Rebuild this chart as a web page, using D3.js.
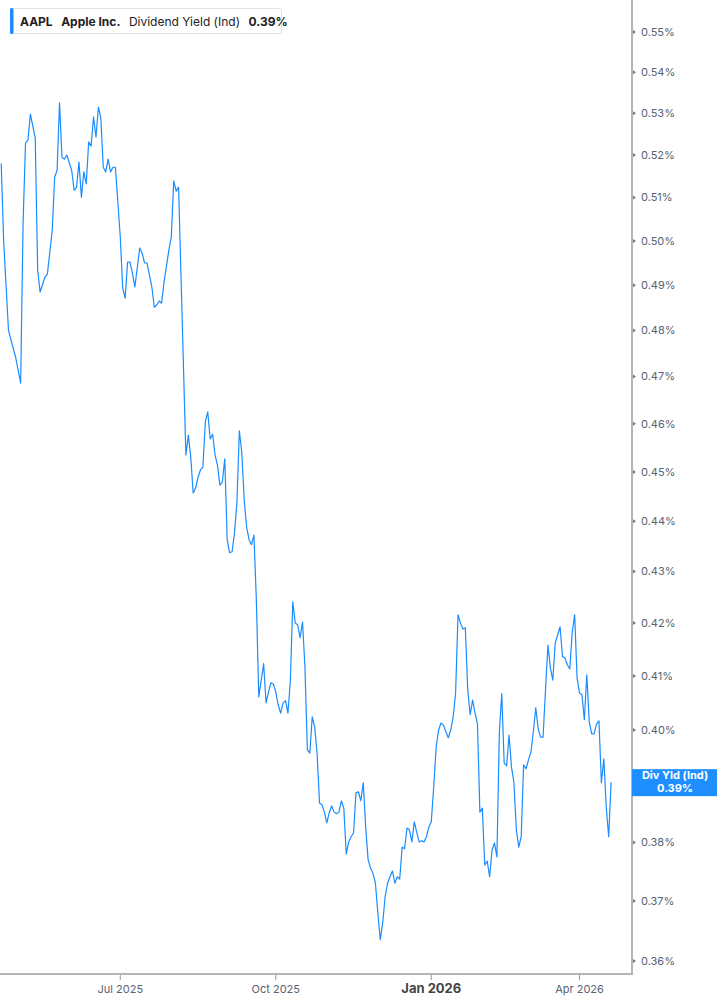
<!DOCTYPE html>
<html>
<head>
<meta charset="utf-8">
<script src="https://cdn.jsdelivr.net/npm/d3@7"></script>
<style>
  body { margin: 0; background: #fff; font-family: Inter, "Noto Sans", sans-serif; }
</style>
</head>
<body>
<div id="chart"></div>
<script>
// trading session index (0 = Apr 21 2025) and dividend yield in %
var session = [0,1,3,6,8,9,10,11,12,14,15,16,18,19,21,22,23,24,25,26,27,29,30,31,32,33,34,35,36,37,38,39,40,41,42,43,44,45,46,47,
  49,50,51,52,53,54,55,57,58,59,60,62,63,64,65,66,67,69,70,71,72,73,
  76,77,78,79,80,81,82,83,84,85,86,87,88,89,90,91,92,93,94,95,96,97,98,99,100,101,102,103,104,105,106,
  108,109,110,111,112,113,114,115,116,117,118,119,120,121,122,123,124,125,126,127,128,129,130,
  131,132,133,134,135,136,137,138,139,140,141,142,143,144,145,146,147,148,149,150,151,152,153,154,155,156,157,158,159,160,
  161,162,163,164,165,166,167,168,169,170,171,172,173,174,175,176,177,178,179,180,181,182,183,184,185,186,187,188,189,190,
  191,192,193,194,195,196,197,198,199,200,201,202,203,204,205,206,207,208,209,210,211,212,213,214,215,216,217,218,219,220,
  221,222,223,224,225,226,227,228,229,230,231,232,233,234,235,236,237,238,239,240,241,242,243,244,245,246,247,248,249,250,251];

var divYield = [0.518,0.500,0.480,0.474,0.4686,0.5041,0.5228,0.5236,0.5298,0.5240,0.4934,0.4885,0.4918,0.4925,0.5025,0.5148,0.5164,0.5325,0.5195,0.5190,
  0.5200,0.5164,0.5117,0.5124,0.5183,0.5101,0.5160,0.5132,0.5231,0.5221,0.5291,0.5243,0.5315,0.5288,0.5171,0.5160,0.5190,0.5160,0.5171,0.5171,
  0.5009,0.4894,0.4871,0.4952,0.4952,0.4927,0.4896,0.4984,0.4972,0.4950,0.4950,0.4896,0.4851,0.4856,0.4865,0.4860,0.4907,0.4979,0.5009,0.5139,0.5115,0.5124,
  0.4535,0.4576,0.4531,0.4457,0.4467,0.4489,0.4504,0.4510,0.4604,0.4625,0.4568,0.4578,0.4535,0.4514,0.4473,0.4479,0.4527,0.4363,0.4337,0.4339,
  0.4376,0.4437,0.4585,0.4541,0.4443,0.4388,0.4363,0.4353,0.4372,0.4245,0.4061,
  0.4123,0.4050,0.4070,0.4087,0.4085,0.4070,0.4046,0.4031,0.4050,0.4054,0.4031,0.4092,0.4241,0.4200,0.4197,0.4172,0.4202,0.4117,0.3964,0.3958,0.4024,0.4006,0.3958,
  0.3869,0.3866,0.3853,0.3834,0.3852,0.3864,0.3853,0.3850,0.3853,0.3873,0.3860,0.3780,0.3801,0.3810,0.3817,0.3887,0.3889,0.3873,0.3905,0.3827,
  0.3770,0.3756,0.3747,0.3730,0.3680,0.3635,0.3663,0.3707,0.3730,0.3741,
  0.3751,0.3730,0.3741,0.3737,0.3792,0.3789,0.3825,0.3822,0.3801,0.3836,0.3818,0.3801,0.3803,0.3801,0.3810,0.3827,0.3836,0.3898,0.3969,0.4000,
  0.4013,0.4009,0.3997,0.3986,0.4000,0.4024,0.4068,0.4216,0.4200,0.4189,
  0.4191,0.4074,0.4028,0.4055,0.4031,0.4011,0.3853,0.3860,0.3761,0.3768,0.3741,0.3787,0.3799,0.3775,0.3995,0.4067,0.3940,0.3935,0.3991,0.3933,
  0.3906,0.3822,0.3792,0.3810,0.3937,0.3930,0.3946,0.3960,0.3997,0.4041,
  0.4002,0.3987,0.3987,0.4074,0.4158,0.4115,0.4092,0.4162,0.4177,0.4193,0.4136,0.4134,0.4121,0.4113,0.4183,0.4216,0.4096,0.4068,0.4065,0.4019,
  0.4102,0.4015,0.3993,0.3993,0.4011,0.4017,0.3905,0.3948,0.3862,0.3810,0.3906];

// x axis ticks (first session of the month)
var xTickSessions = [49, 113, 177, 238];
var xTickLabels = ["Jul 2025", "Oct 2025", "Jan 2026", "Apr 2026"];
var xTickMajor = [false, false, true, false];

// y axis ticks in %
var yTicks = [0.36,0.37,0.38,0.39,0.40,0.41,0.42,0.43,0.44,0.45,0.46,0.47,0.48,0.49,0.50,0.51,0.52,0.53,0.54,0.55];

var legendParts = [
  { text: "AAPL", bold: true },
  { text: "Apple Inc.", bold: true },
  { text: "Dividend Yield (Ind)", bold: false },
  { text: "0.39%", bold: true }
];
var lastLabel = "Div Yld (Ind)";

var W = 717, H = 1005;
var plotW = 632, plotH = 974;

var svg = d3.select("#chart").append("svg")
  .attr("width", W)
  .attr("height", H);

var x = d3.scaleLinear().domain([-0.5, 259.6]).range([0, plotW]);
var y = d3.scaleLog().domain([0.35787, 0.5581]).range([plotH, 0]);

var data = session.map(function(s, i) { return { s: s, v: divYield[i] }; });
var last = data[data.length - 1];
var ly = y(last.v);

// the line
svg.append("path")
  .datum(data)
  .attr("fill", "none")
  .attr("stroke", "#1a8cff")
  .attr("stroke-width", 1.2)
  .attr("stroke-linejoin", "round")
  .attr("d", d3.line()
    .x(function(d) { return x(d.s); })
    .y(function(d) { return y(d.v); }));

// right axis
var yAxis = svg.append("g").attr("transform", "translate(" + plotW + ",0)");
yAxis.append("line")
  .attr("x1", 0).attr("x2", 0)
  .attr("y1", 0).attr("y2", plotH + 1)
  .attr("stroke", "#b5b5b5")
  .attr("stroke-width", 2);
var yt = yAxis.selectAll(".ytick")
  .data(yTicks)
  .enter().append("g")
  .attr("transform", function(d) { return "translate(0," + y(d) + ")"; });
yt.append("path")
  .attr("d", "M1,-2L4,0L1,2Z")
  .attr("fill", "#777");
// labels hidden under the last-value box are left out
yt.filter(function(d) { return Math.abs(y(d) - ly) > 14; })
  .append("text")
  .attr("x", 9)
  .attr("dy", "0.35em")
  .style("font-size", "11px")
  .style("fill", "#5a6270")
  .text(function(d) { return d.toFixed(2) + "%"; });

// bottom axis
var xAxis = svg.append("g").attr("transform", "translate(0," + plotH + ")");
xAxis.append("line")
  .attr("x1", 0).attr("x2", plotW + 1)
  .attr("y1", 0).attr("y2", 0)
  .attr("stroke", "#b5b5b5")
  .attr("stroke-width", 2);
var xt = xAxis.selectAll(".xtick")
  .data(xTickSessions)
  .enter().append("g")
  .attr("transform", function(d) { return "translate(" + x(d) + ",0)"; });
xt.append("line")
  .attr("y1", 1).attr("y2", 6)
  .attr("stroke", "#999");
xt.append("text")
  .attr("y", 19)
  .attr("text-anchor", "middle")
  .style("font-size", function(d, i) { return xTickMajor[i] ? "13px" : "11px"; })
  .style("font-weight", function(d, i) { return xTickMajor[i] ? "bold" : "normal"; })
  .style("fill", function(d, i) { return xTickMajor[i] ? "#444" : "#5a6270"; })
  .text(function(d, i) { return xTickLabels[i]; });

// last value label
svg.append("rect")
  .attr("x", plotW)
  .attr("y", ly - 13)
  .attr("width", W - plotW)
  .attr("height", 27)
  .attr("fill", "#1f8fff");
svg.append("text")
  .attr("x", 675).attr("y", ly - 3)
  .attr("text-anchor", "middle")
  .style("font-size", "11px").style("font-weight", "bold").style("fill", "#fff")
  .text(lastLabel);
svg.append("text")
  .attr("x", 675).attr("y", ly + 10)
  .attr("text-anchor", "middle")
  .style("font-size", "11px").style("font-weight", "bold").style("fill", "#fff")
  .text(last.v.toFixed(2) + "%");

// legend box
var legend = svg.append("g");
legend.append("rect")
  .attr("x", 10.5).attr("y", 8.5)
  .attr("width", 271).attr("height", 25)
  .attr("rx", 2)
  .attr("fill", "#fff")
  .attr("stroke", "#e3e3e3");
legend.append("rect")
  .attr("x", 10).attr("y", 8)
  .attr("width", 3.5).attr("height", 26)
  .attr("rx", 1.5)
  .attr("fill", "#1a8cff");
var lt = legend.append("text")
  .attr("x", 20).attr("y", 25.5)
  .style("font-size", "12px")
  .style("fill", "#222");
legendParts.forEach(function(p, i) {
  lt.append("tspan")
    .attr("dx", i === 0 ? 0 : 8.5)
    .style("font-weight", p.bold ? "bold" : "normal")
    .text(p.text);
});
</script>
</body>
</html>
